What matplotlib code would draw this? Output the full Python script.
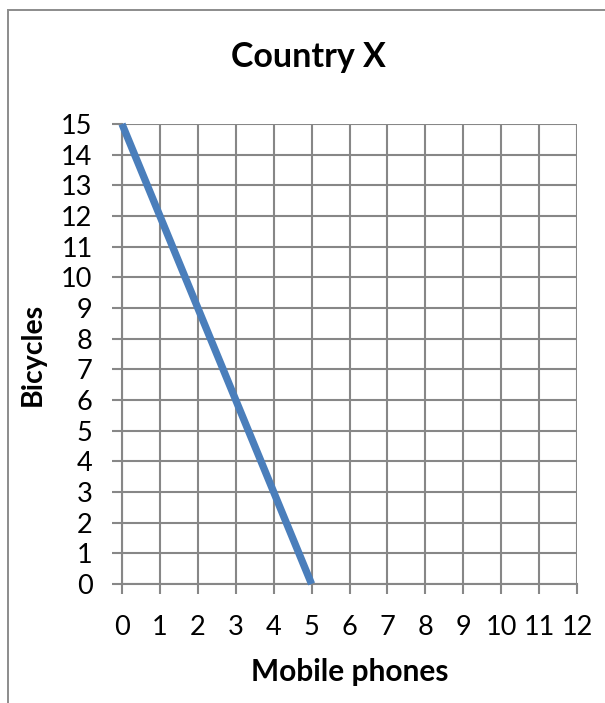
import matplotlib
matplotlib.use("Agg")
import matplotlib.pyplot as plt
from matplotlib.patches import Rectangle

# Production possibilities for Country X
mobile_phones = [0, 1, 2, 3, 4, 5]
bicycles = [15, 12, 9, 6, 3, 0]

x_ticks = list(range(0, 13))
y_ticks = list(range(0, 16))

title = "Country X"
x_label = "Mobile phones"
y_label = "Bicycles"

W, H, DPI = 605, 703, 100
plt.rcParams["font.family"] = ["Lato", "DejaVu Sans"]

fig = plt.figure(figsize=(W / DPI, H / DPI), dpi=DPI)
fig.patch.set_facecolor("white")

# plot area in pixel coordinates
left_px, right_px, top_px, bottom_px = 122, 577, 124, 584
ax = fig.add_axes([left_px / W, 1 - bottom_px / H,
                   (right_px - left_px) / W, (bottom_px - top_px) / H])

grid_color = "#878787"
ax.set_xlim(0, 12)
ax.set_ylim(0, 15)
ax.set_xticks(x_ticks)
ax.set_yticks(y_ticks)
ax.grid(True, color=grid_color, linewidth=1.5, zorder=1)
ax.set_axisbelow(True)
for side in ["top", "right"]:
    ax.spines[side].set_visible(False)
for side in ["left", "bottom"]:
    ax.spines[side].set_color(grid_color)
    ax.spines[side].set_linewidth(1.5)
ax.tick_params(axis="both", direction="out", length=7.2, width=1.5,
               color=grid_color, labelsize=19.5, labelcolor="black")
ax.tick_params(axis="y", pad=14)
ax.tick_params(axis="x", pad=15)

ax.plot(mobile_phones, bicycles, color="#4a7ebb", linewidth=5.3,
        solid_capstyle="butt", zorder=3, clip_on=False)

fig.text(308 / W, 1 - 67 / H, title, ha="center", va="baseline",
         fontsize=24.5, fontweight="bold")
fig.text(350 / W, 1 - 681 / H, x_label, ha="center", va="baseline",
         fontsize=21.5, fontweight="bold")
fig.text(33 / W, 1 - 354 / H, y_label, ha="center", va="center",
         rotation=90, fontsize=20.5, fontweight="bold")

# chart frame
fig.patches.append(Rectangle((7.5 / W, -0.1), 1.2, 1 - 10 / H + 0.1,
                             transform=fig.transFigure, fill=False,
                             edgecolor="#8c8c8c", linewidth=1.4))

fig.savefig("out.png", dpi=DPI)
